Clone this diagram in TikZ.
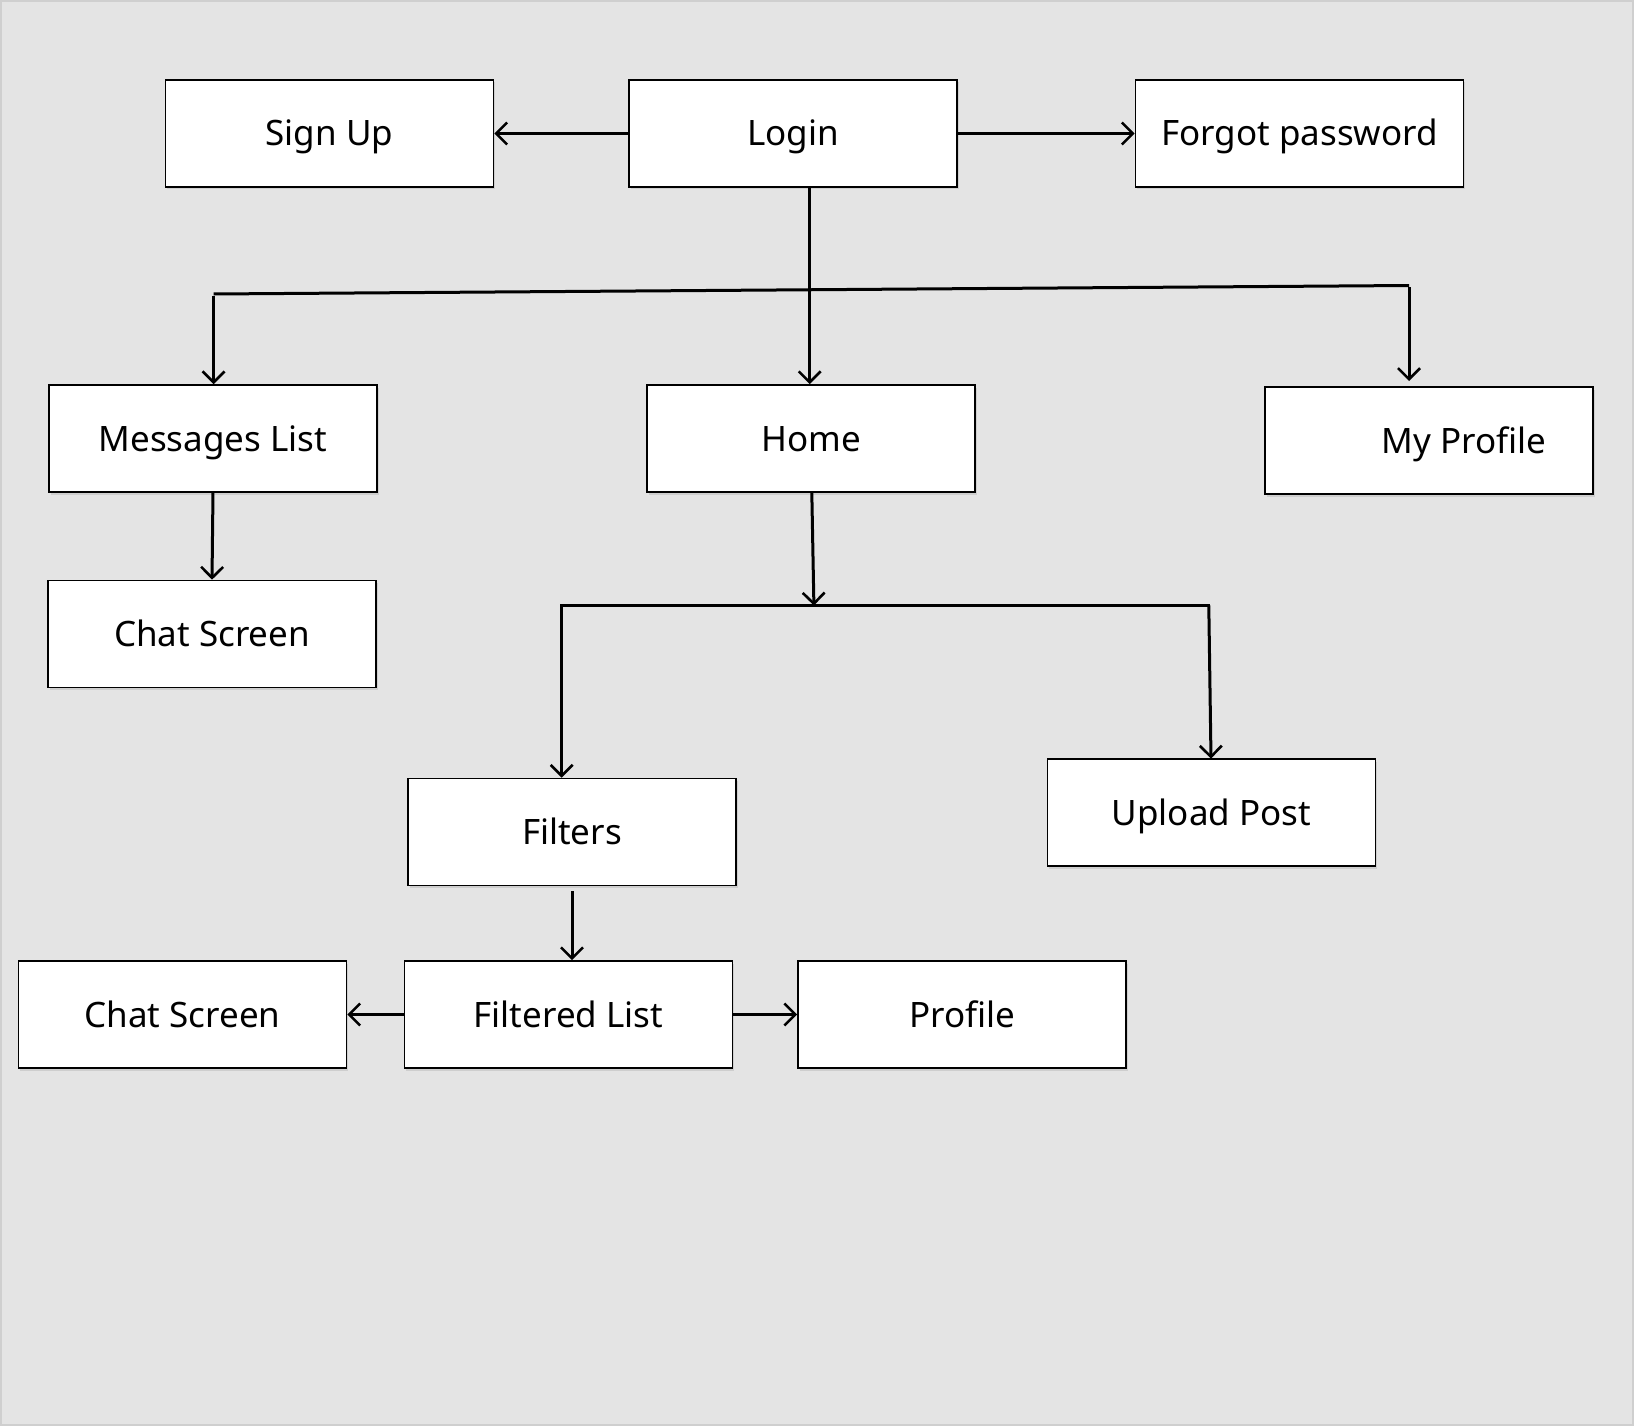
\documentclass[tikz,border=0pt]{standalone}
\usepackage{fontspec}
\setmainfont{Noto Sans}
\usetikzlibrary{arrows.meta,shadows,calc}
\definecolor{bg}{HTML}{E4E4E4}
\definecolor{frame}{HTML}{CFCFCF}
\tikzset{
  screen/.style={draw=black, line width=1.6pt, fill=white, minimum width=328pt, minimum height=107pt,
    inner sep=0pt, text height=25pt, text depth=0pt, font=\fontsize{35}{40}\selectfont,
    drop shadow={opacity=0.22, shadow xshift=1.5pt, shadow yshift=-2.5pt}},
  link/.style={line width=3pt, -{Straight Barb[length=11pt,width=22pt,line width=2.6pt]}},
  wire/.style={line width=3pt}
}
\begin{document}
\begin{tikzpicture}[x=1pt,y=-1pt]
\fill[bg] (0,0) rectangle (1634,1426);
\draw[frame, line width=2pt] (1,1) rectangle (1633,1425);
\useasboundingbox (0,0) rectangle (1634,1426);

\node[screen] (signup)  at (329.5,133.5) {Sign Up};
\node[screen] (login)   at (793,133.5) {Login};
\node[screen] (forgot)  at (1299.5,133.5) {Forgot password};
\node[screen] (msgs)    at (213,438.5) {Messages List};
\node[screen] (home)    at (811,438.5) {Home};
\node[screen] (myprof)  at (1429,440.5) {\hspace*{70pt}My Profile};
\node[screen] (chat1)   at (212,634) {Chat Screen};
\node[screen] (filters) at (572,832) {Filters};
\node[screen] (upload)  at (1211.5,812.5) {Upload Post};
\node[screen] (chat2)   at (182.5,1014.5) {Chat Screen};
\node[screen] (flist)   at (568.5,1014.5) {Filtered List};
\node[screen] (profile) at (962,1014.5) {Profile};

% top row
\draw[link] (login.west) -- (signup.east);
\draw[link] (login.east) -- (forgot.west);
% login to home and bus
\coordinate (busL) at (213.6,294);
\coordinate (busR) at (1409,285.5);
\coordinate (myprofTip) at (1409,381);
\coordinate (loginBot) at (809.7,187.6);
\draw[link] (loginBot) -- (loginBot |- home.north);
\draw[wire] (busL) -- (busR);
\draw[link] ([yshift=-1.5pt]busL) -- (busL |- msgs.north);
\draw[link] ([yshift=-1.5pt]busR) -- (myprofTip);
% messages to chat
\draw[link] (msgs.south) -- (chat1.north);
% home to lower bus
\coordinate (homeBot) at (811.8,492);
\coordinate (bus2) at (813.9,605.5);
\coordinate (bus2L) at (561.7,605.5);
\coordinate (bus2R) at (1208.8,605.5);
\coordinate (uploadTip) at (1211,758.6);
\draw[link] (homeBot) -- (bus2);
\draw[wire] ([xshift=-1.5pt]bus2L) -- ([xshift=1.5pt]bus2R);
\draw[link] (bus2L) -- (bus2L |- filters.north);
\draw[link] (bus2R) -- (uploadTip);
% filters to filtered list
\coordinate (filtBot) at (572,891);
\draw[link] (filtBot) -- (filtBot |- flist.north);
\draw[link] (flist.west) -- (chat2.east);
\draw[link] (flist.east) -- (profile.west);
\end{tikzpicture}
\end{document}
